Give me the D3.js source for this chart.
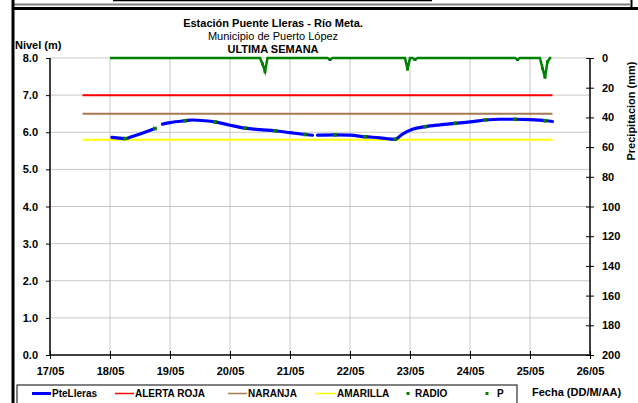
<!DOCTYPE html>
<html><head><meta charset="utf-8">
<script src="https://cdn.jsdelivr.net/npm/d3@7"></script>
<style>
body{margin:0;background:#fff;}
svg{display:block;font-family:"Liberation Sans",Arial,sans-serif;}
</style></head><body>
<svg id="c" width="638" height="403"></svg>
<script>
const titleLines = ["Estación Puente Lleras - Río Meta.", "Municipio de Puerto López", "ULTIMA SEMANA"];
const xTickLabels = ["17/05","18/05","19/05","20/05","21/05","22/05","23/05","24/05","25/05","26/05"];
const yTicks = [0,1,2,3,4,5,6,7,8];
const pTicks = [0,20,40,60,80,100,120,140,160,180,200];

const levelTimes = ["18/05 00:45","18/05 05:45","18/05 06:30","18/05 07:00","18/05 12:00","18/05 18:00","18/05 19:30",
  "18/05 21:00","19/05 00:00","19/05 06:00","19/05 09:00","19/05 14:00","19/05 18:00","20/05 00:00","20/05 06:00",
  "20/05 12:00","20/05 18:00","21/05 00:00","21/05 06:00","21/05 09:00","21/05 10:00",
  "21/05 11:00","21/05 18:00","22/05 00:00","22/05 06:00","22/05 12:00","22/05 18:00","22/05 21:00","23/05 01:00",
  "23/05 06:00","23/05 12:00","23/05 18:00","24/05 00:00","24/05 06:00","24/05 12:00","24/05 18:00","25/05 00:00",
  "25/05 06:30","25/05 09:00"];
const levelValues = [5.86,5.83,null,5.84,5.95,6.10,null,
  6.22,6.26,6.31,6.33,6.31,6.28,6.19,6.11,
  6.07,6.04,5.99,5.94,5.92,null,
  5.92,5.93,5.92,5.88,5.85,5.81,5.95,6.08,
  6.15,6.20,6.24,6.28,6.33,6.35,6.35,6.34,
  6.31,6.29];

const radioTimes = ["18/05 06:00","18/05 18:00","19/05 06:00","19/05 18:00","20/05 06:00","20/05 18:00","21/05 06:00",
  "21/05 18:00","22/05 06:00","22/05 18:00","23/05 06:00","23/05 18:00","24/05 06:00","24/05 18:00","25/05 06:00"];
const radioValues = [5.83,6.10,6.31,6.28,6.11,6.04,5.94,5.93,5.88,5.81,6.15,6.24,6.33,6.35,6.31];

const alertStart = "17/05 13:00", alertEnd = "25/05 09:00";
const alertNames = ["ALERTA ROJA","NARANJA","AMARILLA"];
const alertValues = [7.0, 6.5, 5.8];

const pTimes = ["18/05 00:00","20/05 12:00","20/05 13:00","20/05 14:00","20/05 15:00","21/05 15:00","21/05 16:00","21/05 17:00",
  "22/05 22:00","22/05 23:00","23/05 00:00","23/05 01:00","23/05 02:00","23/05 03:00","24/05 18:00","24/05 19:00","24/05 20:00",
  "25/05 04:00","25/05 05:00","25/05 06:00","25/05 07:00","25/05 08:00","25/05 08:30"];
const pValues = [0,0,4,9,0,0,1,0,
  0,7.5,0,0,1,0,0,1,0,
  0,7,13,2.5,0,0];

const legendNames = ["PteLleras","ALERTA ROJA","NARANJA","AMARILLA","RADIO","P"];

const parse = d3.timeParse("%d/%m %H:%M");
const svg = d3.select("#c");
const x = d3.scaleTime().domain([parse("17/05 00:00"), parse("26/05 00:00")]).range([50, 590]);
const y = d3.scaleLinear().domain([0, 8]).range([355, 58]);
const yp = d3.scaleLinear().domain([0, 200]).range([58, 355]);
const green = "#008000";
const alertColors = ["#ff0000", "#a57a52", "#ffff00"];

// frame
svg.append("line").attr("x1",13).attr("x2",630).attr("y1",4.5).attr("y2",4.5).attr("stroke","#808080").attr("stroke-width",2);
svg.append("line").attr("x1",113).attr("x2",432).attr("y1",0.5).attr("y2",0.5).attr("stroke","#000").attr("stroke-width",1.5);
svg.append("line").attr("x1",12).attr("x2",638).attr("y1",8.5).attr("y2",8.5).attr("stroke","#000").attr("stroke-width",3);
svg.append("line").attr("x1",631.5).attr("x2",631.5).attr("y1",0).attr("y2",9).attr("stroke","#000").attr("stroke-width",2);
svg.append("line").attr("x1",13).attr("x2",13).attr("y1",0).attr("y2",403).attr("stroke","#000").attr("stroke-width",3);

// gridlines
const days = d3.timeDay.range(parse("17/05 00:00"), parse("26/05 00:01"));
svg.append("g").selectAll("line").data(days.slice(1, -1)).join("line")
  .attr("x1", d => x(d)).attr("x2", d => x(d)).attr("y1", 58).attr("y2", 355)
  .attr("stroke", "#c8c8c8").attr("stroke-width", 1);
svg.append("g").selectAll("line").data(yTicks.slice(1)).join("line")
  .attr("x1", 50).attr("x2", 590).attr("y1", d => y(d)).attr("y2", d => y(d))
  .attr("stroke", "#c8c8c8").attr("stroke-width", 1);

// axes
const gy = svg.append("g").attr("transform", "translate(50,0)")
  .call(d3.axisLeft(y).tickValues(yTicks).tickFormat(d3.format(".1f")).tickSize(4).tickPadding(8));
const gx = svg.append("g").attr("transform", "translate(0,355)")
  .call(d3.axisBottom(x).tickValues(days).tickFormat((d,i) => xTickLabels[i]).tickSizeInner(4).tickSizeOuter(0).tickPadding(6));
gx.selectAll(".tick line").attr("y1", -4).attr("y2", 4);
const gp = svg.append("g").attr("transform", "translate(590,0)")
  .call(d3.axisRight(yp).tickValues(pTicks).tickSize(4).tickPadding(8));
gp.selectAll(".tick line").attr("x1", -4).attr("x2", 4);
[gy, gx, gp].forEach(g => {
  g.select(".domain").attr("stroke", "#000").attr("stroke-width", 1.5);
  g.selectAll(".tick line").attr("stroke", "#000");
  g.selectAll("text").attr("font-size", 11).attr("font-weight", "bold").attr("fill", "#000")
    .attr("font-family", "'Liberation Sans',Arial,sans-serif");
});
gy.select(".domain").attr("d", "M0,58V355");
gp.select(".domain").attr("d", "M0,58V355");
gx.select(".domain").attr("d", "M50,0H590");
gx.selectAll("text").attr("dy", "0.9em");

// alert lines
alertValues.forEach((v, i) => {
  svg.append("line").attr("x1", x(parse(alertStart))).attr("x2", x(parse(alertEnd)))
    .attr("y1", y(v)).attr("y2", y(v)).attr("stroke", alertColors[i]).attr("stroke-width", 2);
});

// precipitation
const pData = pTimes.map((t, i) => ({t: parse(t), v: pValues[i]}));
svg.append("path").datum(pData)
  .attr("d", d3.line().x(d => x(d.t)).y(d => yp(d.v)))
  .attr("fill", "none").attr("stroke", green).attr("stroke-width", 2.5);
svg.append("g").selectAll("rect").data(pData.filter(d => d.v > 0)).join("rect")
  .attr("x", d => x(d.t) - 1.5).attr("y", d => yp(d.v) - 1.5).attr("width", 3).attr("height", 3).attr("fill", green);

// level line
const lData = levelTimes.map((t, i) => ({t: parse(t), v: levelValues[i]}));
svg.append("path").datum(lData)
  .attr("d", d3.line().defined(d => d.v !== null).curve(d3.curveMonotoneX).x(d => x(d.t)).y(d => y(d.v)))
  .attr("fill", "none").attr("stroke", "#0000ff").attr("stroke-width", 3.2).attr("stroke-linecap", "round");

// radio points
svg.append("g").selectAll("rect").data(radioTimes.map((t, i) => ({t: parse(t), v: radioValues[i]}))).join("rect")
  .attr("x", d => x(d.t) - 1.8).attr("y", d => y(d.v) - 1.8).attr("width", 3.6).attr("height", 3.6).attr("fill", green);

// titles
const tg = svg.append("g").attr("text-anchor", "middle").attr("fill", "#000");
tg.append("text").attr("x", 273).attr("y", 27).attr("font-size", 11).attr("font-weight", "bold").text(titleLines[0]);
tg.append("text").attr("x", 273).attr("y", 40).attr("font-size", 11).text(titleLines[1]);
tg.append("text").attr("x", 273).attr("y", 53).attr("font-size", 11).attr("font-weight", "bold").text(titleLines[2]);
svg.append("text").attr("x", 15).attr("y", 49).attr("font-size", 11).attr("font-weight", "bold").text("Nivel (m)");
svg.append("text").attr("transform", "translate(635,111) rotate(-90)").attr("text-anchor", "middle")
  .attr("font-size", 11).attr("font-weight", "bold").text("Precipitacion (mm)");
svg.append("text").attr("x", 532).attr("y", 396).attr("font-size", 11).attr("font-weight", "bold").text("Fecha (DD/M/AA)");

// legend
svg.append("rect").attr("x", 17).attr("y", 385).attr("width", 500).attr("height", 20)
  .attr("fill", "#fff").attr("stroke", "#000").attr("stroke-width", 1);
const legendItems = [
  {type: "line", color: "#0000ff", w: 3, x0: 32, x1: 51, tx: 52},
  {type: "line", color: alertColors[0], w: 1.5, x0: 115, x1: 134, tx: 135},
  {type: "line", color: alertColors[1], w: 1.5, x0: 228, x1: 247, tx: 248},
  {type: "line", color: alertColors[2], w: 1.5, x0: 315, x1: 336, tx: 337},
  {type: "dot", color: green, cx: 408, tx: 415},
  {type: "dot", color: green, cx: 487, tx: 497}
];
legendItems.forEach((it, i) => {
  const ly = 393.5;
  if (it.type === "line") {
    svg.append("line").attr("x1", it.x0).attr("x2", it.x1).attr("y1", ly).attr("y2", ly)
      .attr("stroke", it.color).attr("stroke-width", it.w);
  } else {
    svg.append("rect").attr("x", it.cx - 1.5).attr("y", ly - 1.5).attr("width", 3).attr("height", 3).attr("fill", it.color);
  }
  svg.append("text").attr("x", it.tx).attr("y", 397).attr("font-size", 10).attr("font-weight", "bold").text(legendNames[i]);
});
</script>
</body></html>
